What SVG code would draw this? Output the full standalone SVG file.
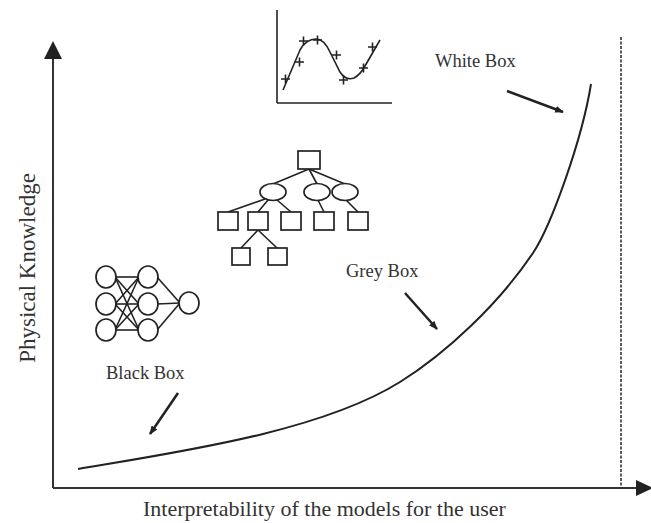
<svg xmlns="http://www.w3.org/2000/svg" width="651" height="523" viewBox="0 0 651 523">
<style>
.ln{fill:none;stroke:#222;stroke-width:1.6}
.nd{fill:#fff;stroke:#222;stroke-width:1.7}
.ax{fill:none;stroke:#333;stroke-width:2}
.ar{fill:none;stroke:#222;stroke-width:2.5;marker-end:url(#ah)}
.lb{font-family:"Liberation Serif","Times New Roman",serif;font-size:18.5px;fill:#333}
.axl{font-family:"Liberation Serif","Times New Roman",serif;font-size:22px;fill:#333}
</style>
<defs>
<marker id="ah" markerUnits="userSpaceOnUse" viewBox="0 0 10 8" refX="9" refY="4" markerWidth="9" markerHeight="7" orient="auto">
<path d="M0,0 L10,4 L0,8 z" fill="#222"/>
</marker>
</defs>
<rect width="651" height="523" fill="#fff"/>
<g id="axes">
<line class="ax" x1="53" y1="488" x2="53" y2="56"/>
<path d="M44,59 L53,41 L62,59 z" fill="#222"/>
<line class="ax" x1="53" y1="488" x2="640" y2="488"/>
<path d="M636,480 L653,488 L636,496 z" fill="#222"/>
<line x1="621" y1="37" x2="621" y2="488" stroke="#333" stroke-width="1.6" stroke-dasharray="3,1.5"/>
<text class="axl" x="143" y="516">Interpretability of the models for the user</text>
<text class="axl" transform="translate(35,268) rotate(-90)" text-anchor="middle" style="font-size:23px">Physical Knowledge</text>
</g>
<g id="curve">
<path d="M78,469 C178,452 320,432 400,382 C445,354 498,305 533,253 C551,226 582,140 591,84" fill="none" stroke="#222" stroke-width="2"/>
</g>
<g id="inset-plot">
<line class="ln" x1="277" y1="10" x2="277" y2="103"/>
<line class="ln" x1="277" y1="103" x2="392" y2="103"/>
<path class="ln" d="M283,90 L300,50 Q306,39 316,39 Q324,39 330,52 L340,72 Q346,81 354,78 Q360,75 365,66 L380,40"/>
<g class="ln" stroke-width="1.6">
<path d="M281,79 h9 M285.5,74.5 v9"/>
<path d="M295,62 h9 M299.5,57.5 v9"/>
<path d="M299,41 h9 M303.5,36.5 v9"/>
<path d="M313,40 h9 M317.5,35.5 v9"/>
<path d="M332,55 h9 M336.5,50.5 v9"/>
<path d="M339,80 h9 M343.5,75.5 v9"/>
<path d="M359,68 h9 M363.5,63.5 v9"/>
<path d="M368,47 h9 M372.5,42.5 v9"/>
</g>
</g>
<g id="tree">
<g class="ln">
<line x1="309" y1="169" x2="273" y2="184"/>
<line x1="309" y1="169" x2="317" y2="184"/>
<line x1="309" y1="169" x2="345" y2="184"/>
<line x1="265" y1="199" x2="228" y2="212"/>
<line x1="268" y1="200" x2="258" y2="212"/>
<line x1="277" y1="200" x2="291" y2="212"/>
<line x1="318" y1="200" x2="324" y2="212"/>
<line x1="346" y1="200" x2="358" y2="212"/>
<line x1="258" y1="230" x2="241" y2="248"/>
<line x1="258" y1="230" x2="277" y2="248"/>
</g>
<rect class="nd" x="298" y="151" width="22" height="18"/>
<ellipse class="nd" cx="273" cy="192" rx="13" ry="8.5"/>
<ellipse class="nd" cx="317" cy="192" rx="13" ry="8.5"/>
<ellipse class="nd" cx="345" cy="192" rx="13" ry="8.5"/>
<rect class="nd" x="218" y="212" width="20" height="18"/>
<rect class="nd" x="248" y="212" width="20" height="18"/>
<rect class="nd" x="281" y="212" width="20" height="18"/>
<rect class="nd" x="314" y="212" width="20" height="18"/>
<rect class="nd" x="348" y="212" width="20" height="18"/>
<rect class="nd" x="232" y="248" width="18" height="17"/>
<rect class="nd" x="268" y="248" width="19" height="17"/>
</g>
<g id="neural-net">
<g class="ln">
<line x1="115" y1="277" x2="139" y2="277"/>
<line x1="115" y1="277" x2="139" y2="304"/>
<line x1="115" y1="277" x2="139" y2="330"/>
<line x1="115" y1="304" x2="139" y2="277"/>
<line x1="115" y1="304" x2="139" y2="304"/>
<line x1="115" y1="304" x2="139" y2="330"/>
<line x1="115" y1="330" x2="139" y2="277"/>
<line x1="115" y1="330" x2="139" y2="304"/>
<line x1="115" y1="330" x2="139" y2="330"/>
<line x1="157" y1="277" x2="180" y2="303"/>
<line x1="157" y1="304" x2="180" y2="303"/>
<line x1="157" y1="330" x2="180" y2="303"/>
</g>
<ellipse class="nd" cx="106" cy="277" rx="10" ry="11"/>
<ellipse class="nd" cx="106" cy="304" rx="10" ry="11"/>
<ellipse class="nd" cx="106" cy="330" rx="10" ry="11"/>
<ellipse class="nd" cx="148" cy="277" rx="10" ry="11"/>
<ellipse class="nd" cx="148" cy="304" rx="10" ry="11"/>
<ellipse class="nd" cx="148" cy="330" rx="10" ry="11"/>
<ellipse class="nd" cx="189" cy="303" rx="10" ry="11"/>
</g>
<g id="labels">
<text class="lb" x="435" y="67">White Box</text>
<text class="lb" x="346" y="277">Grey Box</text>
<text class="lb" x="106" y="379">Black Box</text>
</g>
<g id="connectors">
<line class="ar" x1="507" y1="91" x2="563" y2="112"/>
<line class="ar" x1="405" y1="293" x2="437" y2="329"/>
<line class="ar" x1="178" y1="393" x2="150" y2="434"/>
</g>
</svg>
